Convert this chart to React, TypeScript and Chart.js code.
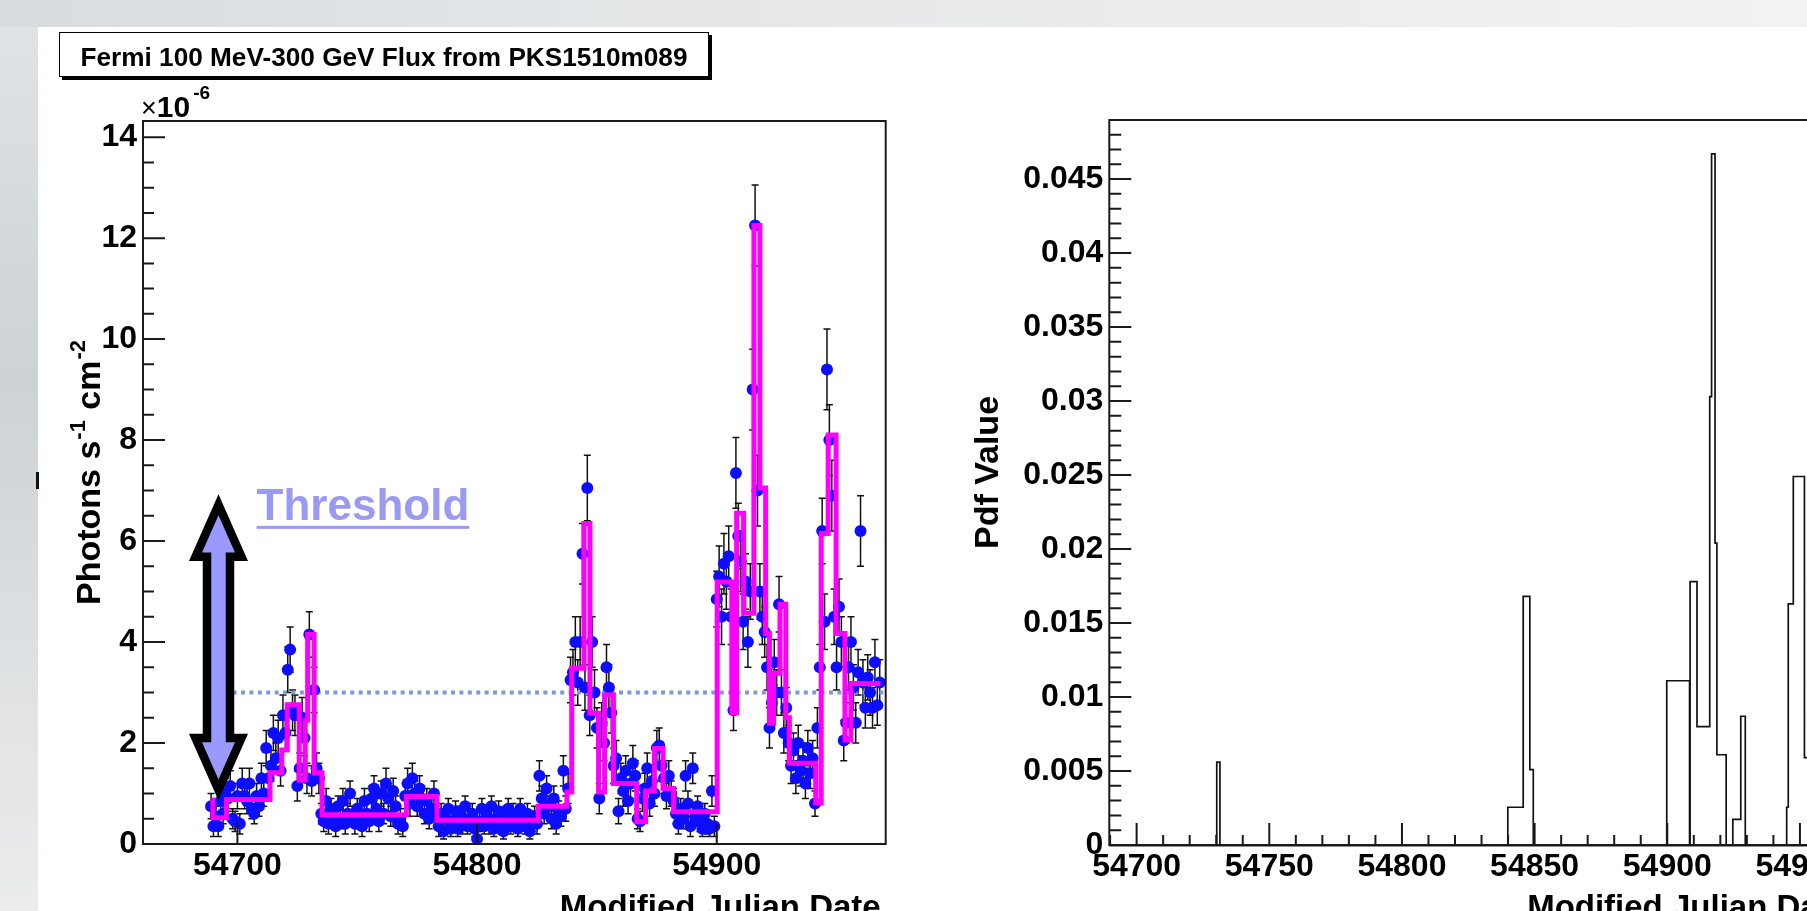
import React, { useEffect, useRef } from 'react';
import { Chart, registerables } from 'chart.js';

Chart.register(...registerables);

const FONT = '"Liberation Sans", Arial, Helvetica, sans-serif';

// ---------- Left panel: Fermi light curve (flux in units of 1e-6 photons s^-1 cm^-2) ----------
const fluxDays = [
  54689, 54690, 54691, 54692, 54693, 54694, 54695, 54696, 54697, 54698,
  54699, 54700, 54701, 54702, 54703, 54704, 54705, 54706, 54707, 54708,
  54709, 54710, 54711, 54712, 54713, 54714, 54715, 54716, 54717, 54718,
  54719, 54720, 54721, 54722, 54723, 54724, 54725, 54726, 54727, 54728,
  54729, 54730, 54731, 54732, 54733, 54734, 54735, 54736, 54737, 54738,
  54739, 54740, 54741, 54742, 54743, 54744, 54745, 54746, 54747, 54748,
  54749, 54750, 54751, 54752, 54753, 54754, 54755, 54756, 54757, 54758,
  54759, 54760, 54761, 54762, 54763, 54764, 54765, 54766, 54767, 54768,
  54769, 54770, 54771, 54772, 54773, 54774, 54775, 54776, 54777, 54778,
  54779, 54780, 54781, 54782, 54783, 54784, 54785, 54786, 54787, 54788,
  54789, 54790, 54791, 54792, 54793, 54794, 54795, 54796, 54797, 54798,
  54799, 54800, 54801, 54802, 54803, 54804, 54805, 54806, 54807, 54808,
  54809, 54810, 54811, 54812, 54813, 54814, 54815, 54816, 54817, 54818,
  54819, 54820, 54821, 54822, 54823, 54824, 54825, 54826, 54827, 54828,
  54829, 54830, 54831, 54832, 54833, 54834, 54835, 54836, 54837, 54838,
  54839, 54840, 54841, 54842, 54843, 54844, 54845, 54846, 54847, 54848,
  54849, 54850, 54851, 54852, 54853, 54854, 54855, 54856, 54857, 54858,
  54859, 54860, 54861, 54862, 54863, 54864, 54865, 54866, 54867, 54868,
  54869, 54870, 54871, 54872, 54873, 54874, 54875, 54876, 54877, 54878,
  54879, 54880, 54881, 54882, 54883, 54884, 54885, 54886, 54887, 54888,
  54889, 54890, 54891, 54892, 54893, 54894, 54895, 54896, 54897, 54898,
  54899, 54900, 54901, 54902, 54903, 54904, 54905, 54906, 54907, 54908,
  54909, 54910, 54911, 54912, 54913, 54914, 54915, 54916, 54917, 54918,
  54919, 54920, 54921, 54922, 54923, 54924, 54925, 54926, 54927, 54928,
  54929, 54930, 54931, 54932, 54933, 54934, 54935, 54936, 54937, 54938,
  54939, 54940, 54941, 54942, 54943, 54944, 54945, 54946, 54947, 54948,
  54949, 54950, 54951, 54952, 54953, 54954, 54955, 54956, 54957, 54958,
  54959, 54960, 54961, 54962, 54963, 54964, 54965, 54966, 54967, 54968,
];

const fluxValues = [
  0.75, 0.35, 0.55, 0.35, 0.85, 0.6, 1.0, 0.9, 1.15, 0.5,
  0.45, 0.95, 0.4, 1.2, 0.95, 0.85, 1.2, 0.7, 0.6, 0.95,
  0.75, 1.3, 1.0, 1.9, 1.3, 1.55, 2.2, 1.7, 2.1, 1.45,
  2.55, 2.2, 3.45, 3.85, 2.65, 2.55, 1.15, 1.5, 2.5, 2.1,
  1.3, 4.15, 1.25, 3.05, 1.5, 1.3, 0.6, 0.45, 0.85, 0.4,
  0.7, 0.55, 0.35, 0.75, 0.5, 0.85, 0.4, 0.6, 1.0, 0.55,
  0.4, 0.7, 0.5, 0.35, 0.85, 0.6, 0.45, 0.9, 1.1, 0.7,
  0.45, 1.0, 0.6, 1.2, 0.9, 0.55, 1.05, 0.75, 0.4, 0.5,
  0.35, 0.95, 1.2, 0.8, 1.3, 1.0, 0.75, 1.1, 0.9, 0.6,
  0.85, 0.5, 0.7, 1.0, 0.55, 0.35, 0.6, 0.25, 0.5, 0.7,
  0.3, 0.45, 0.65, 0.3, 0.55, 0.4, 0.75, 0.35, 0.5, 0.6,
  0.3, 0.1, 0.45, 0.7, 0.35, 0.55, 0.4, 0.75, 0.3, 0.5,
  0.65, 0.4, 0.25, 0.55, 0.7, 0.35, 0.6, 0.45, 0.3, 0.7,
  0.5, 0.35, 0.6, 0.25, 0.45, 0.55, 0.4, 1.35, 0.9, 0.6,
  1.1, 0.75, 0.5, 0.9, 0.4, 0.65, 0.55, 1.45, 0.7, 1.1,
  3.25, 3.4, 4.0, 3.2, 4.0, 5.75, 3.1, 7.05, 2.55, 4.0,
  3.0, 2.3, 0.9, 2.4, 2.0, 3.5, 3.1, 2.6, 1.55, 1.7,
  0.65, 1.3, 1.05, 1.45, 0.85, 1.2, 1.6, 1.35, 0.5, 0.45,
  0.9, 1.1, 1.5, 0.8, 1.25, 1.0, 1.9, 1.95, 1.55, 1.3,
  0.95, 1.35, 1.0, 0.85, 0.6, 0.4, 0.7, 0.5, 1.35, 0.8,
  0.35, 1.5, 0.55, 0.75, 0.45, 0.3, 0.6, 0.4, 0.3, 1.05,
  0.35, 4.85, 5.3, 4.5, 5.55, 5.2, 5.7, 4.5, 2.65, 7.35,
  6.1, 5.6, 4.4, 5.2, 4.0, 5.0, 9.0, 12.25, 7.0, 5.0,
  4.5, 4.2, 3.5, 2.3, 2.8, 3.6, 3.0, 4.75, 3.0, 2.2,
  2.7, 2.0, 1.55, 1.85, 1.3, 2.0, 1.45, 1.65, 1.2, 1.9,
  1.4, 1.7, 0.8, 2.3, 3.5, 6.2, 4.4, 9.4, 8.0, 6.9,
  4.5, 3.5, 4.7, 4.0, 2.05, 2.4, 3.5, 4.0, 3.1, 2.4,
  3.4, 6.2, 3.2, 2.7, 3.3, 3.0, 2.7, 3.6, 2.75, 3.2,
];

const fluxErrors = [
  0.25, 0.2, 0.2, 0.2, 0.25, 0.2, 0.3, 0.25, 0.3, 0.2,
  0.2, 0.25, 0.2, 0.3, 0.25, 0.25, 0.3, 0.2, 0.2, 0.25,
  0.2, 0.3, 0.25, 0.35, 0.3, 0.3, 0.35, 0.3, 0.35, 0.3,
  0.4, 0.35, 0.45, 0.45, 0.4, 0.4, 0.3, 0.3, 0.4, 0.35,
  0.3, 0.45, 0.3, 0.45, 0.3, 0.3, 0.2, 0.2, 0.25, 0.2,
  0.2, 0.2, 0.2, 0.2, 0.2, 0.25, 0.2, 0.2, 0.25, 0.2,
  0.2, 0.2, 0.2, 0.2, 0.25, 0.2, 0.2, 0.25, 0.25, 0.2,
  0.2, 0.25, 0.2, 0.3, 0.25, 0.2, 0.25, 0.2, 0.2, 0.2,
  0.2, 0.25, 0.3, 0.25, 0.3, 0.25, 0.2, 0.25, 0.25, 0.2,
  0.25, 0.2, 0.2, 0.25, 0.2, 0.2, 0.2, 0.15, 0.2, 0.2,
  0.15, 0.2, 0.2, 0.15, 0.2, 0.2, 0.2, 0.15, 0.2, 0.2,
  0.15, 0.15, 0.2, 0.2, 0.15, 0.2, 0.2, 0.2, 0.15, 0.2,
  0.2, 0.2, 0.15, 0.2, 0.2, 0.15, 0.2, 0.2, 0.15, 0.2,
  0.2, 0.15, 0.2, 0.15, 0.2, 0.2, 0.2, 0.3, 0.25, 0.2,
  0.25, 0.2, 0.2, 0.25, 0.2, 0.2, 0.2, 0.3, 0.25, 0.3,
  0.45, 0.45, 0.5, 0.45, 0.5, 0.6, 0.45, 0.65, 0.4, 0.5,
  0.45, 0.4, 0.3, 0.4, 0.35, 0.45, 0.45, 0.4, 0.35, 0.35,
  0.25, 0.3, 0.3, 0.3, 0.25, 0.3, 0.35, 0.3, 0.2, 0.2,
  0.25, 0.3, 0.3, 0.25, 0.3, 0.25, 0.35, 0.35, 0.3, 0.3,
  0.25, 0.3, 0.25, 0.25, 0.2, 0.2, 0.2, 0.2, 0.3, 0.25,
  0.2, 0.3, 0.2, 0.2, 0.2, 0.15, 0.2, 0.2, 0.15, 0.3,
  0.2, 0.55, 0.6, 0.55, 0.6, 0.55, 0.6, 0.55, 0.4, 0.7,
  0.65, 0.6, 0.55, 0.55, 0.5, 0.55, 0.8, 0.8, 0.7, 0.55,
  0.55, 0.5, 0.45, 0.4, 0.45, 0.45, 0.45, 0.55, 0.45, 0.4,
  0.4, 0.35, 0.35, 0.35, 0.3, 0.35, 0.3, 0.35, 0.3, 0.35,
  0.3, 0.35, 0.25, 0.4, 0.45, 0.65, 0.55, 0.8, 0.7, 0.7,
  0.55, 0.45, 0.55, 0.5, 0.4, 0.4, 0.45, 0.5, 0.45, 0.4,
  0.45, 0.7, 0.45, 0.4, 0.45, 0.45, 0.4, 0.45, 0.4, 0.45,
];

// Bayesian-block step function (magenta): block start days (last entry = end) and levels
const blockEdges = [
  54689.3, 54689.8, 54695.4, 54713.6, 54718.5, 54720.8, 54725.8, 54728.3, 54729.3, 54732.0,
  54735.3, 54770.5, 54783.3, 54825.5, 54837.5, 54839.5, 54844.6, 54847.1, 54850.7, 54853.2,
  54856.9, 54866.6, 54870.3, 54874.0, 54877.6, 54882.0, 54900.2, 54906.3, 54908.3, 54911.2,
  54915.5, 54918.0, 54920.4, 54922.0, 54923.7, 54926.4, 54928.8, 54930.3, 54941.3, 54943.6,
  54946.5, 54949.8, 54953.5, 54956.0, 54968.3,
];
const blockValues = [
  0.87, 0.52, 0.88, 1.41, 1.86, 2.76, 1.27, 2.45, 4.15, 1.41,
  0.58, 0.94, 0.47, 0.75, 1.03, 3.48, 6.35, 2.59, 1.03, 2.95,
  1.2, 0.44, 1.05, 1.89, 1.1, 0.64, 5.19, 2.6, 6.55, 4.57,
  12.25, 7.05, 4.17, 2.39, 3.38, 4.75, 2.5, 1.6, 0.81, 6.15,
  8.1, 4.17, 2.06, 3.18,
];

const thresholdValue = 3.0;
const thresholdStartDay = 54698;
// overlay annotation anchors (data units)
const arrowDay = 54692.1;
const arrowTopValue = 6.72;
const arrowBottomValue = 1.07;
const thresholdLabelDay = 54708;
const thresholdLabelValue = 6.42;

const fluxXTicks = [54700, 54800, 54900];
const fluxXTickLabels = ['54700', '54800', '54900'];
const fluxYTicks = [0, 2, 4, 6, 8, 10, 12, 14];
const fluxYTickLabels = ['0', '2', '4', '6', '8', '10', '12', '14'];

// ---------- Right panel: Pdf histogram ----------
const pdfEdges = [
  54689.7, 54730.2, 54731.4, 54839.9, 54845.7, 54848.2, 54849.5, 54899.8, 54908.4, 54908.6,
  54911.2, 54916.0, 54916.7, 54918.0, 54918.7, 54922.2, 54924.7, 54927.7, 54929.4, 54945.0,
  54945.6, 54947.5, 54951.7, 54956.0, 54970.0,
];
const pdfValues = [
  0, 0.0056, 0, 0.00255, 0.0168, 0.0051, 0, 0.0111, 0, 0.0178,
  0.008, 0.0303, 0.0467, 0.0204, 0.0061, 0, 0.00173, 0.0087, 0, 0.00255,
  0.0163, 0.0249, 0.0059, 0,
];
const pdfXTicks = [54700, 54750, 54800, 54850, 54900, 54950];
const pdfXTickLabels = ['54700', '54750', '54800', '54850', '54900', '54950'];
const pdfYTicks = [0, 0.005, 0.01, 0.015, 0.02, 0.025, 0.03, 0.035, 0.04, 0.045];
const pdfYTickLabels = ['0', '0.005', '0.01', '0.015', '0.02', '0.025', '0.03', '0.035', '0.04', '0.045'];

const tickFont = { family: FONT, size: 32, weight: 'bold' as const };

function drawSupText(ctx: CanvasRenderingContext2D, parts: { t: string; sup?: boolean }[], size: number, supSize: number, supRise: number) {
  let x = 0;
  for (const p of parts) {
    ctx.font = `bold ${p.sup ? supSize : size}px ${FONT}`;
    ctx.fillText(p.t, x + (p.sup ? 1 : 0), p.sup ? -supRise : 0);
    x += ctx.measureText(p.t).width + (p.sup ? 2 : 0);
  }
}

const leftPlugin = {
  id: 'leftDecor',
  beforeDatasetsDraw(chart: any) {
    const { ctx, chartArea: a, scales } = chart;
    const xs = scales.x;
    const ys = scales.y;
    ctx.save();
    ctx.beginPath();
    ctx.rect(a.left, a.top, a.right - a.left, a.bottom - a.top);
    ctx.clip();
    // error bars
    ctx.strokeStyle = '#111';
    ctx.lineWidth = 1.5;
    ctx.beginPath();
    for (let i = 0; i < fluxDays.length; i++) {
      const x = xs.getPixelForValue(fluxDays[i]);
      const yLo = ys.getPixelForValue(fluxValues[i] - fluxErrors[i]);
      const yHi = ys.getPixelForValue(fluxValues[i] + fluxErrors[i]);
      ctx.moveTo(x, yLo);
      ctx.lineTo(x, yHi);
      ctx.moveTo(x - 3.5, yLo);
      ctx.lineTo(x + 3.5, yLo);
      ctx.moveTo(x - 3.5, yHi);
      ctx.lineTo(x + 3.5, yHi);
    }
    ctx.stroke();
    // dotted threshold
    ctx.strokeStyle = '#7d9bd3';
    ctx.lineWidth = 4;
    ctx.setLineDash([4, 4.4]);
    const ty = ys.getPixelForValue(thresholdValue);
    ctx.beginPath();
    ctx.moveTo(xs.getPixelForValue(thresholdStartDay), ty);
    ctx.lineTo(a.right, ty);
    ctx.stroke();
    ctx.restore();
  },
  afterDraw(chart: any) {
    const { ctx, chartArea: a, scales } = chart;
    const xs = scales.x;
    const ys = scales.y;
    ctx.save();
    // frame
    ctx.strokeStyle = '#1a1a1a';
    ctx.lineWidth = 2;
    ctx.strokeRect(a.left, a.top, a.right - a.left, a.bottom - a.top);
    // ticks
    ctx.beginPath();
    for (let v = 0; v <= ys.max; v += 0.5) {
      const y = ys.getPixelForValue(v);
      const len = v % 2 === 0 ? 22 : 11;
      ctx.moveTo(a.left, y);
      ctx.lineTo(a.left + len, y);
    }
    for (const t of fluxXTicks) {
      const x = xs.getPixelForValue(t);
      ctx.moveTo(x, a.bottom);
      ctx.lineTo(x, a.bottom - 21);
    }
    ctx.stroke();

    // x10^-6
    ctx.fillStyle = '#000';
    ctx.textAlign = 'left';
    ctx.textBaseline = 'alphabetic';
    ctx.font = `27px ${FONT}`;
    ctx.fillText('\u00d7', a.left - 2, a.top - 4);
    const wx = ctx.measureText('\u00d7').width;
    ctx.font = `bold 30px ${FONT}`;
    ctx.fillText('10', a.left - 2 + wx, a.top - 4);
    const w10 = ctx.measureText('10').width;
    ctx.font = `bold 19px ${FONT}`;
    ctx.fillText('-6', a.left + wx + w10 + 1, a.top - 22);

    // y title
    ctx.save();
    ctx.translate(a.left - 43, 605);
    ctx.rotate(-Math.PI / 2);
    drawSupText(ctx, [
      { t: 'Photons s' }, { t: '-1', sup: true }, { t: ' cm' }, { t: '-2', sup: true },
    ], 34, 22, 15);
    ctx.restore();

    // x title
    ctx.font = `bold 33px ${FONT}`;
    ctx.textAlign = 'right';
    ctx.fillText('Modified Julian Date', a.right - 5, a.bottom + 74);

    // threshold label
    ctx.textAlign = 'left';
    ctx.font = `bold 44px ${FONT}`;
    ctx.fillStyle = '#9a9af2';
    const lx = xs.getPixelForValue(thresholdLabelDay);
    const ly = ys.getPixelForValue(thresholdLabelValue);
    ctx.fillText('Threshold', lx, ly);
    const lw = ctx.measureText('Threshold').width;
    ctx.fillRect(lx, ly + 6, lw, 3);

    // double arrow
    const ax = xs.getPixelForValue(arrowDay);
    const yT = ys.getPixelForValue(arrowTopValue);
    const yB = ys.getPixelForValue(arrowBottomValue);
    const sw = 11.5;
    const hw = 23;
    const hl = 52;
    ctx.beginPath();
    ctx.moveTo(ax, yT);
    ctx.lineTo(ax + hw, yT + hl);
    ctx.lineTo(ax + sw, yT + hl);
    ctx.lineTo(ax + sw, yB - hl);
    ctx.lineTo(ax + hw, yB - hl);
    ctx.lineTo(ax, yB);
    ctx.lineTo(ax - hw, yB - hl);
    ctx.lineTo(ax - sw, yB - hl);
    ctx.lineTo(ax - sw, yT + hl);
    ctx.lineTo(ax - hw, yT + hl);
    ctx.closePath();
    ctx.fillStyle = '#9999ff';
    ctx.fill();
    ctx.lineJoin = 'miter';
    ctx.lineWidth = 8.5;
    ctx.strokeStyle = '#000';
    ctx.stroke();
    ctx.restore();
  },
};

const rightPlugin = {
  id: 'rightDecor',
  afterDraw(chart: any) {
    const { ctx, chartArea: a, scales } = chart;
    const xs = scales.x;
    const ys = scales.y;
    ctx.save();
    ctx.strokeStyle = '#1a1a1a';
    ctx.lineWidth = 2;
    ctx.strokeRect(a.left, a.top, a.right - a.left, a.bottom - a.top);
    ctx.beginPath();
    ctx.moveTo(a.left, a.bottom + 0.5);
    ctx.lineTo(a.right, a.bottom + 0.5);
    ctx.stroke();
    ctx.beginPath();
    for (let k = 0; k * 0.001 <= ys.max; k++) {
      const y = ys.getPixelForValue(k * 0.001);
      const len = k % 5 === 0 ? 22 : 12;
      ctx.moveTo(a.left, y);
      ctx.lineTo(a.left + len, y);
    }
    for (let d = 54690; d <= xs.max; d += 10) {
      const x = xs.getPixelForValue(d);
      const len = pdfXTicks.includes(d) ? 22 : 10;
      ctx.moveTo(x, a.bottom);
      ctx.lineTo(x, a.bottom - len);
    }
    ctx.stroke();

    ctx.fillStyle = '#000';
    ctx.textBaseline = 'alphabetic';
    ctx.save();
    ctx.translate(a.left - 111, 549);
    ctx.rotate(-Math.PI / 2);
    ctx.textAlign = 'left';
    ctx.font = `bold 34px ${FONT}`;
    ctx.fillText('Pdf Value', 0, 0);
    ctx.restore();

    ctx.font = `bold 33px ${FONT}`;
    ctx.textAlign = 'right';
    ctx.fillText('Modified Julian Date', a.right - 5, a.bottom + 73);
    ctx.restore();
  },
};

export default function App() {
  const leftRef = useRef<HTMLCanvasElement>(null);
  const rightRef = useRef<HTMLCanvasElement>(null);

  useEffect(() => {
    const blockPoints = blockEdges.map((x, i) => ({ x, y: blockValues[Math.min(i, blockValues.length - 1)] }));
    const fluxPoints = fluxDays.map((x, i) => ({ x, y: fluxValues[i] }));
    const pdfPoints = pdfEdges.map((x, i) => ({ x, y: pdfValues[Math.min(i, pdfValues.length - 1)] }));

    const left = new Chart(leftRef.current as HTMLCanvasElement, {
      type: 'scatter',
      data: {
        datasets: [
          {
            type: 'line',
            label: 'Bayesian blocks',
            data: blockPoints,
            borderColor: '#ff00ff',
            borderWidth: 5,
            pointRadius: 0,
            stepped: true,
            fill: false,
            order: 0,
            borderJoinStyle: 'miter',
            borderCapStyle: 'butt',
          } as any,
          {
            type: 'scatter',
            label: 'Flux',
            data: fluxPoints,
            pointRadius: 6,
            pointBackgroundColor: '#0d0dff',
            pointBorderColor: '#0d0dff',
            pointBorderWidth: 0,
            order: 1,
          } as any,
        ],
      },
      options: {
        responsive: false,
        animation: false,
        devicePixelRatio: 1,
        layout: { padding: { left: 0, top: 121, right: 64.3, bottom: 7 } },
        plugins: { legend: { display: false }, tooltip: { enabled: false }, title: { display: false } },
        scales: {
          x: {
            type: 'linear',
            min: 54660.6,
            max: 54970.5,
            grid: { display: false, drawTicks: false, tickLength: 0 },
            border: { display: false },
            afterBuildTicks: (s: any) => { s.ticks = fluxXTicks.map((v) => ({ value: v })); },
            afterFit: (s: any) => { s.height = 60; },
            ticks: {
              padding: 3,
              autoSkip: false,
              maxRotation: 0,
              minRotation: 0,
              includeBounds: false,
              color: '#000',
              font: tickFont,
              callback: (_v: any, i: number) => fluxXTickLabels[i],
            },
          },
          y: {
            type: 'linear',
            min: 0,
            max: 14.32,
            grid: { display: false, drawTicks: false, tickLength: 0 },
            border: { display: false },
            afterBuildTicks: (s: any) => { s.ticks = fluxYTicks.map((v) => ({ value: v })); },
            afterFit: (s: any) => { s.width = 143; },
            ticks: {
              padding: 6,
              autoSkip: false,
              includeBounds: false,
              color: '#000',
              font: tickFont,
              callback: (_v: any, i: number) => fluxYTickLabels[i],
            },
          },
        },
      } as any,
      plugins: [leftPlugin],
    });

    const right = new Chart(rightRef.current as HTMLCanvasElement, {
      type: 'line',
      data: {
        datasets: [
          {
            label: 'Pdf',
            data: pdfPoints,
            borderColor: '#111',
            borderWidth: 1.7,
            pointRadius: 0,
            stepped: true,
            fill: false,
          } as any,
        ],
      },
      options: {
        responsive: false,
        animation: false,
        devicePixelRatio: 1,
        layout: { padding: { left: 0, top: 120, right: 57, bottom: 6 } },
        plugins: { legend: { display: false }, tooltip: { enabled: false }, title: { display: false } },
        scales: {
          x: {
            type: 'linear',
            min: 54689.7,
            max: 54970,
            grid: { display: false, drawTicks: false, tickLength: 0 },
            border: { display: false },
            afterBuildTicks: (s: any) => { s.ticks = pdfXTicks.map((v) => ({ value: v })); },
            afterFit: (s: any) => { s.height = 60; },
            ticks: {
              padding: 3,
              autoSkip: false,
              maxRotation: 0,
              minRotation: 0,
              includeBounds: false,
              color: '#000',
              font: tickFont,
              callback: (_v: any, i: number) => pdfXTickLabels[i],
            },
          },
          y: {
            type: 'linear',
            min: 0,
            max: 0.04899,
            grid: { display: false, drawTicks: false, tickLength: 0 },
            border: { display: false },
            afterBuildTicks: (s: any) => { s.ticks = pdfYTicks.map((v) => ({ value: v })); },
            afterFit: (s: any) => { s.width = 159.3; },
            ticks: {
              padding: 6,
              autoSkip: false,
              includeBounds: false,
              color: '#000',
              font: tickFont,
              callback: (_v: any, i: number) => pdfYTickLabels[i],
            },
          },
        },
      } as any,
      plugins: [rightPlugin],
    });

    return () => {
      left.destroy();
      right.destroy();
    };
  }, []);

  return (
    <div
      style={{
        position: 'fixed',
        left: 0,
        top: 0,
        width: 1807,
        height: 911,
        overflow: 'hidden',
        background: 'linear-gradient(90deg, #d7dcdf 0%, #e2e5e7 30%, #ebebeb 60%, #f2f2f2 100%)',
      }}
    >
      <div
        style={{
          position: 'absolute',
          left: 0,
          top: 27,
          width: 38,
          bottom: 0,
          background: 'linear-gradient(180deg, #dfe3e6 0%, #cdd2d5 40%, #dde0e2 70%, #ececec 100%)',
        }}
      />
      <div style={{ position: 'absolute', left: 38, top: 27, right: 0, bottom: 0, background: '#ffffff' }} />
      <div style={{ position: 'absolute', left: 36, top: 472, width: 3, height: 17, background: '#111' }} />
      <canvas ref={leftRef} width={950} height={911} style={{ position: 'absolute', left: 0, top: 0 }} />
      <canvas ref={rightRef} width={960} height={911} style={{ position: 'absolute', left: 950, top: 0 }} />
      <div
        style={{
          position: 'absolute',
          left: 59,
          top: 32,
          width: 650,
          height: 45,
          boxSizing: 'border-box',
          border: '1.5px solid #000',
          boxShadow: '3px 3px 0 #000',
          background: '#fff',
          textAlign: 'center',
        }}
      >
        <span
          style={{
            position: 'absolute',
            left: 0,
            right: 0,
            top: 11,
            lineHeight: '27px',
            fontFamily: FONT,
            fontWeight: 'bold',
            fontSize: 26.2,
            color: '#000',
            whiteSpace: 'nowrap',
          }}
        >
          Fermi 100 MeV-300 GeV Flux from PKS1510m089
        </span>
      </div>
    </div>
  );
}
